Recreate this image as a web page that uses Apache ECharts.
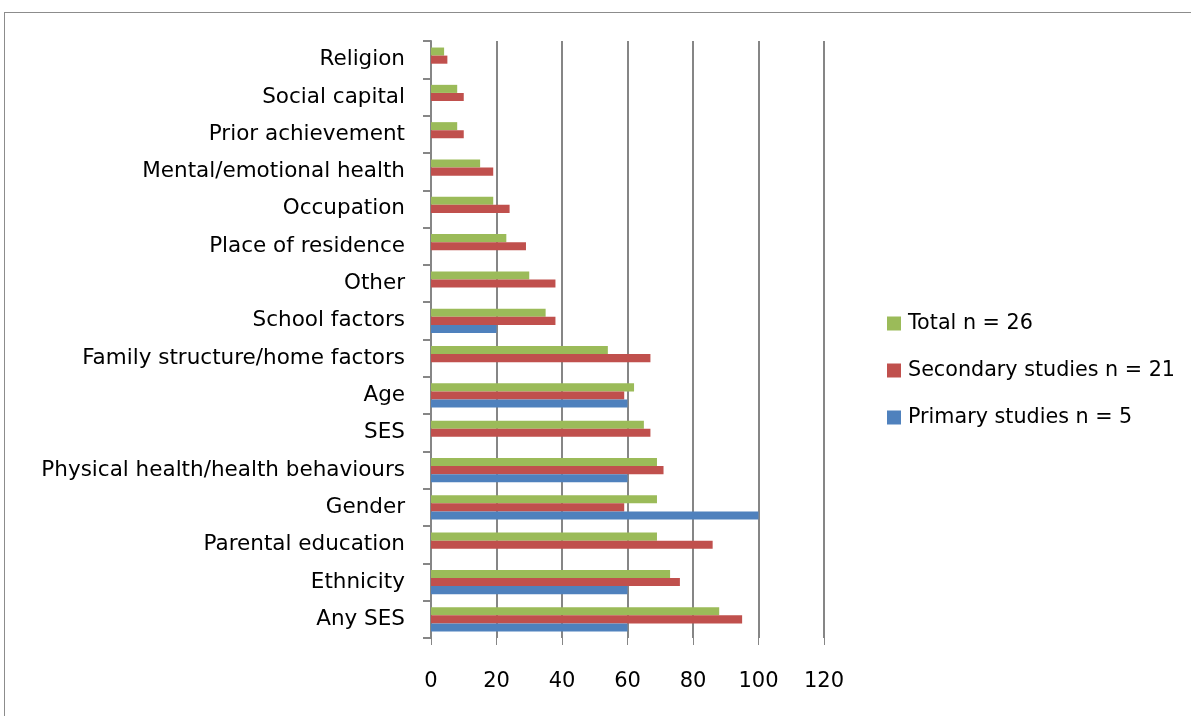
<!DOCTYPE html>
<html>
<head>
<meta charset="utf-8">
<script src="https://cdn.jsdelivr.net/npm/echarts@6/dist/echarts.min.js"></script>
<style>
  html, body { margin: 0; padding: 0; background: #fff; }
  #frame { position: absolute; left: 4px; top: 12px; width: 1200px; height: 720px; border: 1px solid #8c8c8c; box-sizing: border-box; }
  #chart { position: absolute; left: 0; top: 0; width: 1191px; height: 716px; }
</style>
</head>
<body>
<div id="frame"></div>
<div id="chart"></div>
<script>
// Categories listed bottom to top (ECharts category y-axis starts at the bottom)
const categories = [
  'Any SES', 'Ethnicity', 'Parental education', 'Gender',
  'Physical health/health behaviours', 'SES', 'Age',
  'Family structure/home factors', 'School factors', 'Other',
  'Place of residence', 'Occupation', 'Mental/emotional health',
  'Prior achievement', 'Social capital', 'Religion'
];
const primaryValues   = [60, 60, null, 100, 60, null, 60, null, 20, null, null, null, null, null, null, null];
const secondaryValues = [95, 76, 86, 59, 71, 67, 59, 67, 38, 38, 29, 24, 19, 10, 10, 5];
const totalValues     = [88, 73, 69, 69, 69, 65, 62, 54, 35, 30, 23, 19, 15, 8, 8, 4];
const seriesNames = ['Total n = 26', 'Secondary studies n = 21', 'Primary studies n = 5'];
const xTicks = [0, 20, 40, 60, 80, 100, 120];

const FONT = 'DejaVu Sans';
const chart = echarts.init(document.getElementById('chart'), null, { renderer: 'canvas' });
const barStyle = (c) => ({ color: c });
chart.setOption({
  animation: false,
  backgroundColor: 'transparent',
  grid: { left: 431, right: 367, top: 41, bottom: 78, containLabel: false },
  legend: {
    orient: 'vertical',
    left: 882,
    top: 308,
    itemWidth: 14,
    itemHeight: 14,
    itemGap: 26,
    icon: 'rect',
    data: seriesNames,
    textStyle: { fontFamily: FONT, fontSize: 20.7, color: '#000', padding: [0, 0, 0, 2] }
  },
  xAxis: {
    type: 'value',
    min: 0, max: 120, interval: 20,
    axisLine: { show: false },
    axisTick: { show: true, inside: false, length: 7, lineStyle: { color: '#868686', width: 1 } },
    axisLabel: { fontFamily: FONT, fontSize: 21, color: '#000', margin: 33,
      formatter: (v) => xTicks.includes(v) ? String(v) : '' },
    splitLine: { show: true, lineStyle: { color: '#868686', width: 2 } }
  },
  yAxis: {
    type: 'category',
    data: categories,
    axisLine: { show: true, lineStyle: { color: '#868686', width: 2 } },
    axisTick: { show: true, length: 8, inside: false, alignWithLabel: false, lineStyle: { color: '#868686', width: 2 } },
    axisLabel: { fontFamily: FONT, fontSize: 21.5, color: '#000', margin: 26 }
  },
  series: [
    { name: seriesNames[0], type: 'bar', data: totalValues, barGap: '0%', barCategoryGap: '35%', itemStyle: barStyle('#9BBB59') },
    { name: seriesNames[1], type: 'bar', data: secondaryValues, barGap: '0%', barCategoryGap: '35%', itemStyle: barStyle('#C0504D') },
    { name: seriesNames[2], type: 'bar', data: primaryValues, barGap: '0%', barCategoryGap: '35%', itemStyle: barStyle('#4F81BD') }
  ]
});
</script>
</body>
</html>
